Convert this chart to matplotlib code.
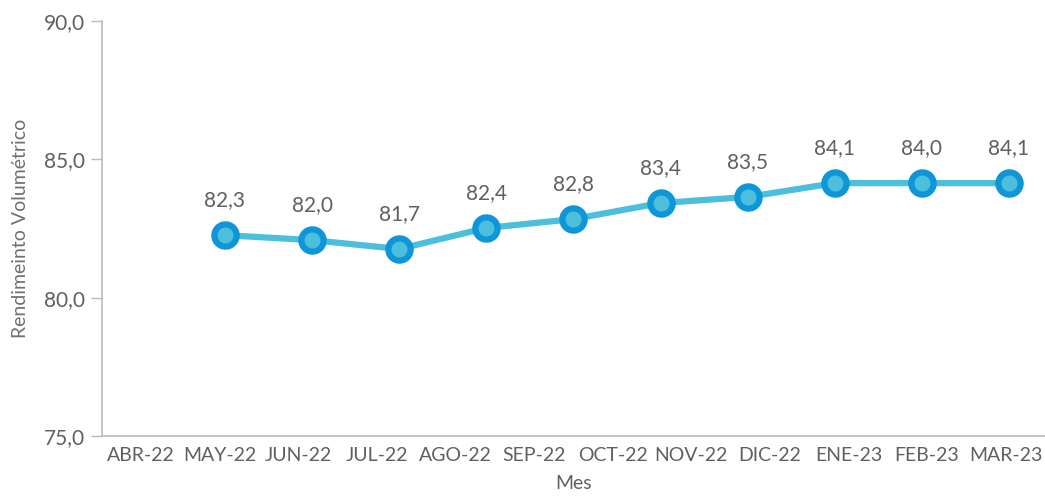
import matplotlib
matplotlib.use("Agg")
import matplotlib.pyplot as plt

months = ["ABR-22", "MAY-22", "JUN-22", "JUL-22", "AGO-22", "SEP-22", "OCT-22",
          "NOV-22", "DIC-22", "ENE-23", "FEB-23", "MAR-23"]
# plotted series (10 points, drawn on their own evenly spaced scale)
values = [82.26, 82.08, 81.76, 82.52, 82.84, 83.42, 83.64, 84.14, 84.14, 84.14]
labels = ["82,3", "82,0", "81,7", "82,4", "82,8", "83,4", "83,5", "84,1", "84,0", "84,1"]
yticks = [75, 80, 85, 90]

plt.rcParams['font.family'] = ['Lato', 'DejaVu Sans']
txt = "#606060"
fig = plt.figure(figsize=(10.45, 4.98), dpi=100)
ax = fig.add_axes([0.0976, 0.1245, 0.9024, 0.8333])
ax.set_xlim(-0.5, 11.5)
ax.set_ylim(75, 90)
ax.set_xticks(range(len(months)))
ax.set_xticklabels(months)
ax.set_yticks(yticks)
ax.set_yticklabels([f"{v:.1f}".replace(".", ",") for v in yticks])
ax.tick_params(axis="x", length=0, pad=8, labelsize=14, labelcolor=txt)
ax.tick_params(axis="y", length=8, width=1, color="#bbbbbb", pad=4, labelsize=15, labelcolor=txt)
for s in ["top", "right"]:
    ax.spines[s].set_visible(False)
for s in ["left", "bottom"]:
    ax.spines[s].set_color("#bbbbbb")
    ax.spines[s].set_linewidth(1.2)
ax.set_xlabel("Mes", fontsize=14, color=txt, labelpad=8)
ax.set_ylabel("Rendimeinto Volumétrico", fontsize=14, color="#707070", labelpad=11)

# line on its own x scale
ax2 = ax.twiny()
ax2.set_xlim(-1.412, 9.414)
ax2.set_ylim(75, 90)
ax2.axis("off")
xs = list(range(len(values)))
ax2.plot(xs, values, color="#4BBFDB", lw=4.5, marker="o", ms=16, mfc="#4BBFDB",
         mec="#0E96D8", mew=4.5, zorder=3, clip_on=False)
for x, y, l in zip(xs, values, labels):
    ax2.annotate(l, (x, y), xytext=(0, 18), textcoords="offset points",
                 ha="center", va="bottom", fontsize=15, color=txt)
fig.savefig("out.png", dpi=100)
